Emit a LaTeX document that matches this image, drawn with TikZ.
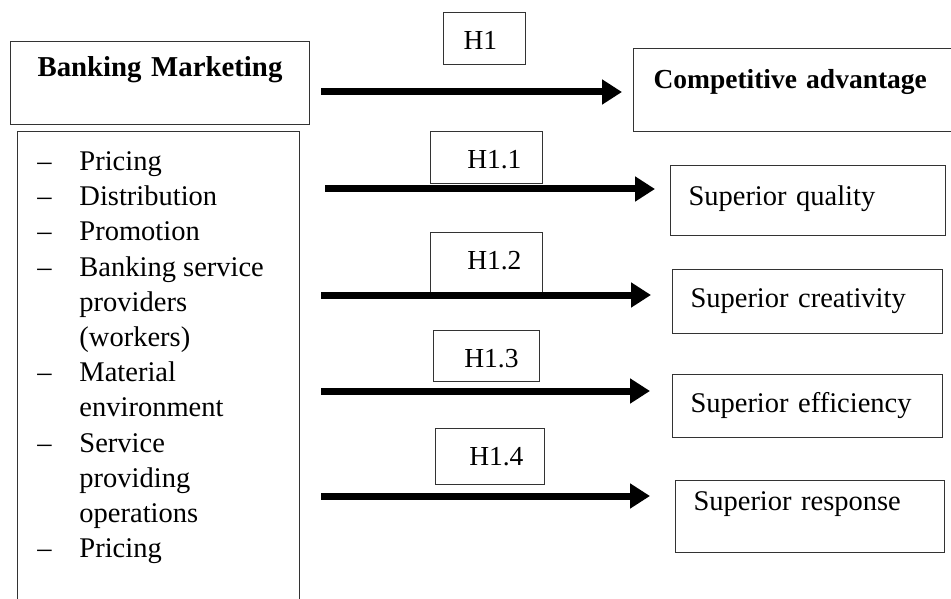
\documentclass[tikz,border=0pt]{standalone}
\usepackage{fontspec}
\setmainfont{Liberation Serif}
\usepackage{tikz}
\usetikzlibrary{arrows.meta}
\tikzstyle{box}=[draw=black!80, line width=1pt, inner ysep=0pt, anchor=base west, font=\fontsize{28.5}{35.2}\selectfont]
\tikzstyle{hd}=[box, inner xsep=20pt, font=\fontsize{27.5}{33}\selectfont\bfseries]
\tikzstyle{hyp}=[box, align=right, inner xsep=21pt, text height=37pt, font=\fontsize{27.5}{33}\selectfont]
\tikzstyle{res}=[box, align=left, inner xsep=18pt]
\tikzstyle{arr}=[line width=7pt, -{Triangle[length=20pt, width=24pt]}]

\begin{document}
\begin{tikzpicture}[x=1pt, y=-1pt]
	\useasboundingbox (0,0) rectangle (951,599);
	\clip (0,0) rectangle (951,599);
	% left side
	\draw (10,77) node[hd, align=center, text width=259pt, text height=35pt, text depth=48pt, font=\fontsize{28.8}{34}\selectfont\bfseries] (bm) {Banking Marketing};
	\draw (17,131) node[box, anchor=north west, inner xsep=20pt, inner ysep=14.4pt] (mix) {%
		\begin{tabular}{@{}p{42pt}@{}p{200pt}@{}}
		– & Pricing\\
		– & Distribution\\
		– & Promotion\\
		– & Banking service\\
		  & providers\\
		  & (workers)\\
		– & Material\\
		  & environment\\
		– & Service\\
		  & providing\\
		  & operations\\
		– & Pricing\\[40pt]
		\end{tabular}};
	% right side
	\draw (633,89) node[hd, align=left, text width=320pt, text height=40pt, text depth=43pt] (ca) {Competitive advantage};
	\draw (670,206) node[res, text width=239pt, text height=40pt, text depth=29pt] (sq) {Superior quality};
	\draw (672,307) node[res, text width=234pt, text height=38pt, text depth=26pt] (sc) {Superior creativity};
	\draw (672,412) node[res, text width=234pt, text height=38pt, text depth=25pt] (se) {Superior efficiency};
	\draw (675,510) node[res, text width=233pt, text height=30pt, text depth=42pt] (sr) {Superior response};
	% hypotheses
	\draw (443,50) node[hyp, align=left, inner xsep=20pt, text width=42pt, text depth=15pt] (h0) {H1};
	\draw (430,169) node[hyp, text width=70pt, text depth=15pt] (h1) {H1.1};
	\draw (430,269) node[hyp, text width=70pt, text depth=23pt] (h2) {H1.2};
	\draw (433,367) node[hyp, text width=64pt, text depth=14pt] (h3) {H1.3};
	\draw (435,465) node[hyp, text width=67pt, text depth=19pt] (h4) {H1.4};
	\coordinate (s0) at (321,92);
	\coordinate (s1) at (325,189);
	\coordinate (s2) at (321,295);
	\coordinate (s3) at (321,391);
	\coordinate (s4) at (321,496);
	\draw[arr, shorten >=11pt] (s0) -- (s0 -| ca.west);
	\draw[arr, shorten >=15pt] (s1) -- (s1 -| sq.west);
	\draw[arr, shorten >=21pt] (s2) -- (s2 -| sc.west);
	\draw[arr, shorten >=22pt] (s3) -- (s3 -| se.west);
	\draw[arr, shorten >=25pt] (s4) -- (s4 -| sr.west);
\end{tikzpicture}
\end{document}
